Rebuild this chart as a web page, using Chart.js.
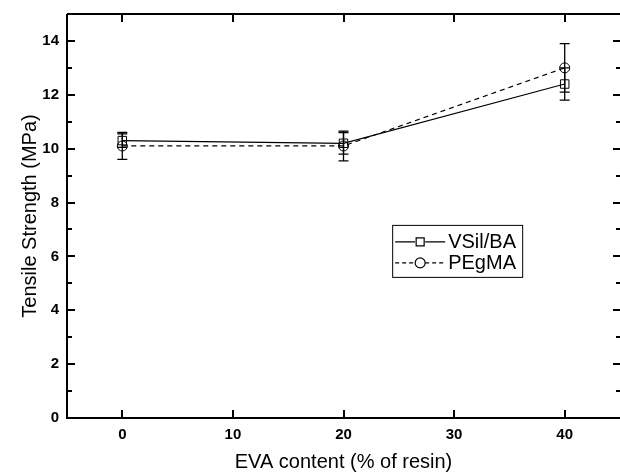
<!DOCTYPE html>
<html>
<head>
<meta charset="utf-8">
<script src="https://cdn.jsdelivr.net/npm/chart.js@4/dist/chart.umd.min.js"></script>
<style>
html, body { margin: 0; padding: 0; background: #fff; overflow: hidden; }
#wrap { width: 620px; height: 476px; }
</style>
</head>
<body>
<div id="wrap"><canvas id="tensile"></canvas></div>
<script>
const evaContent = [0, 20, 40];
const vsilBa = [10.3, 10.2, 12.4];
const vsilBaErr = [0.25, 0.4, 0.6];
const pegma = [10.1, 10.1, 13.0];
const pegmaErr = [0.5, 0.55, 0.9];
const xTicks = [0, 10, 20, 30, 40];
const yTicks = [0, 2, 4, 6, 8, 10, 12, 14];
const yMinorTicks = [1, 3, 5, 7, 9, 11, 13];

const FONT = '"Liberation Sans", Arial, sans-serif';

const toPoints = (ys, errs) => ys.map((y, i) => ({ x: evaContent[i], y, err: errs[i] }));

// error bars, drawn through the scales
const errorBars = {
    id: "errorBars",
    afterDatasetsDraw(chart) {
        const ctx = chart.ctx;
        const xs = chart.scales.x;
        const ys = chart.scales.y;
        ctx.save();
        ctx.strokeStyle = "#000";
        ctx.lineWidth = 1.3;
        chart.data.datasets.forEach((ds) => {
            ds.data.forEach((p) => {
                const px = xs.getPixelForValue(p.x);
                const top = ys.getPixelForValue(p.y + p.err);
                const bot = ys.getPixelForValue(p.y - p.err);
                ctx.beginPath();
                ctx.moveTo(px, top);
                ctx.lineTo(px, bot);
                ctx.moveTo(px - 5, top);
                ctx.lineTo(px + 5, top);
                ctx.moveTo(px - 5, bot);
                ctx.lineTo(px + 5, bot);
                ctx.stroke();
            });
        });
        ctx.restore();
    },
};

// box frame with inward ticks
const frameTicks = {
    id: "frameTicks",
    afterDraw(chart) {
        const ctx = chart.ctx;
        const { left, right, top, bottom } = chart.chartArea;
        const xs = chart.scales.x;
        const ys = chart.scales.y;
        ctx.save();
        ctx.strokeStyle = "#000";
        ctx.lineWidth = 2;
        ctx.beginPath();
        ctx.moveTo(left, top);
        ctx.lineTo(right + 2, top);
        ctx.moveTo(left, top);
        ctx.lineTo(left, bottom);
        ctx.lineTo(right + 2, bottom);
        ctx.stroke();

        ctx.beginPath();
        xTicks.forEach((v) => {
            const px = Math.round(xs.getPixelForValue(v));
            ctx.moveTo(px, bottom);
            ctx.lineTo(px, bottom - 8);
            ctx.moveTo(px, top);
            ctx.lineTo(px, top + 8);
        });
        yTicks.forEach((v) => {
            const py = Math.round(ys.getPixelForValue(v));
            ctx.moveTo(left, py);
            ctx.lineTo(left + 8, py);
            ctx.moveTo(right + 1, py);
            ctx.lineTo(right - 7, py);
        });
        yMinorTicks.forEach((v) => {
            const py = Math.round(ys.getPixelForValue(v));
            ctx.moveTo(left, py);
            ctx.lineTo(left + 5, py);
            ctx.moveTo(right + 1, py);
            ctx.lineTo(right - 4, py);
        });
        ctx.stroke();
        ctx.restore();
    },
};

// legend box inside the plot
const boxLegend = {
    id: "boxLegend",
    afterDraw(chart) {
        const ctx = chart.ctx;
        const { left, right, top, bottom } = chart.chartArea;
        const w = right - left;
        const h = bottom - top;
        const bx = left + w * 0.588;
        const by = top + h * 0.522;
        const bw = 130;
        const bh = 52;
        ctx.save();
        ctx.strokeStyle = "#000";
        ctx.lineWidth = 1;
        ctx.strokeRect(bx + 0.5, by + 0.5, bw, bh);
        ctx.font = `20px ${FONT}`;
        ctx.textBaseline = "middle";
        ctx.fillStyle = "#000";
        chart.data.datasets.forEach((ds, i) => {
            const cy = by + 17 + i * 21;
            const mx = bx + 28;
            ctx.lineWidth = 1.2;
            ctx.setLineDash(ds.borderDash ? [4, 3] : []);
            ctx.beginPath();
            ctx.moveTo(bx + 3, cy);
            ctx.lineTo(mx - 5, cy);
            ctx.moveTo(mx + 5, cy);
            ctx.lineTo(bx + 53, cy);
            ctx.stroke();
            ctx.setLineDash([]);
            ctx.beginPath();
            if (ds.pointStyle === "rect") {
                ctx.rect(mx - 4, cy - 4, 8, 8);
            } else {
                ctx.arc(mx, cy, 5, 0, Math.PI * 2);
            }
            ctx.stroke();
            ctx.fillText(ds.label, bx + 56, cy + 1);
        });
        ctx.restore();
    },
};

const config = {
    type: "line",
    data: {
        datasets: [
            {
                label: "VSil/BA",
                data: toPoints(vsilBa, vsilBaErr),
                borderColor: "#000",
                borderWidth: 1.2,
                pointStyle: "rect",
                pointRadius: 6,
                pointBorderWidth: 1,
                pointBorderColor: "#000",
                pointBackgroundColor: "rgba(0,0,0,0)",
            },
            {
                label: "PEgMA",
                data: toPoints(pegma, pegmaErr),
                borderColor: "#000",
                borderWidth: 1.2,
                borderDash: [5, 4],
                pointStyle: "circle",
                pointRadius: 5,
                pointBorderWidth: 1,
                pointBorderColor: "#000",
                pointBackgroundColor: "rgba(0,0,0,0)",
            },
        ],
    },
    options: {
        responsive: true,
        maintainAspectRatio: false,
        animation: false,
        events: [],
        layout: { autoPadding: false, padding: { top: 14, right: 0, left: 0, bottom: 0 } },
        plugins: { legend: { display: false }, tooltip: { enabled: false } },
        scales: {
            x: {
                type: "linear",
                min: -5,
                max: 45,
                afterBuildTicks: (s) => { s.ticks = xTicks.map((value) => ({ value })); },
                afterFit: (s) => { s.height = 58; s.paddingLeft = 0; s.paddingRight = 0; },
                grid: { display: false, drawTicks: false },
                border: { display: false },
                ticks: { color: "#000", padding: 8, font: { family: FONT, size: 15, weight: "bold" } },
                title: {
                    display: true,
                    text: "EVA content (% of resin)",
                    color: "#000",
                    padding: { top: 0, bottom: 2 },
                    font: { family: FONT, size: 20 },
                },
            },
            y: {
                min: 0,
                max: 15,
                afterBuildTicks: (s) => { s.ticks = yTicks.map((value) => ({ value })); },
                afterFit: (s) => { s.width = 67; s.paddingTop = 0; s.paddingBottom = 0; },
                grid: { display: false, drawTicks: false },
                border: { display: false },
                ticks: { color: "#000", padding: 8, font: { family: FONT, size: 15, weight: "bold" } },
                title: {
                    display: true,
                    text: "Tensile Strength (MPa)",
                    color: "#000",
                    padding: { top: 18, bottom: 0 },
                    font: { family: FONT, size: 20 },
                },
            },
        },
    },
    plugins: [errorBars, frameTicks, boxLegend],
};

const ctx = document.getElementById("tensile").getContext("2d");
const chart = new Chart(ctx, config);
</script>
</body>
</html>
